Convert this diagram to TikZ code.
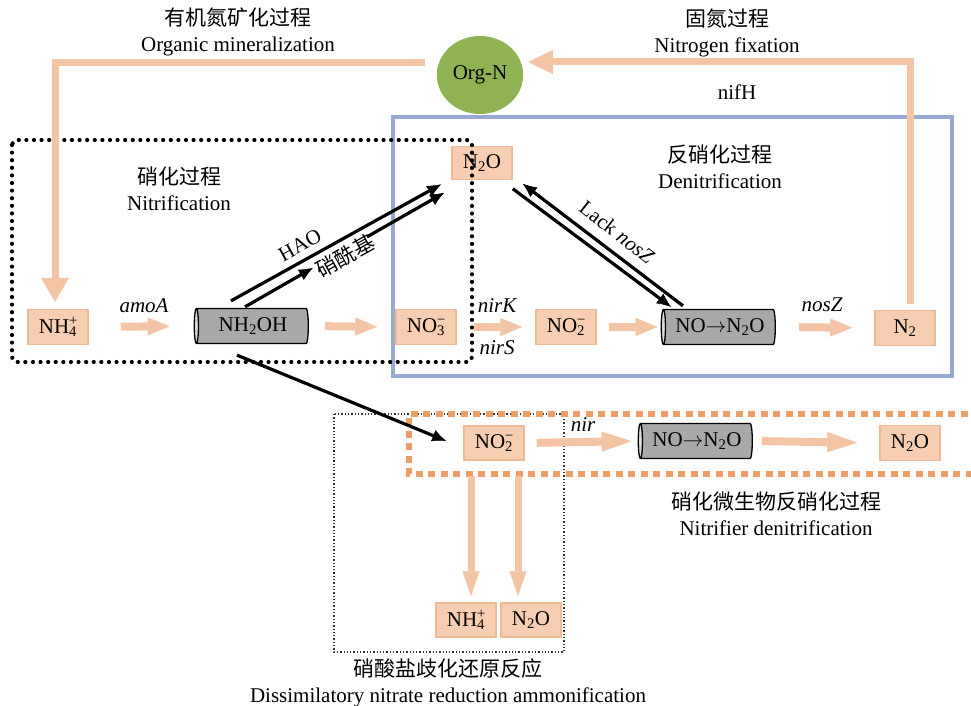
\documentclass[tikz,border=0pt]{standalone}
\usepackage{fontspec}
\setmainfont{Liberation Serif}
\newfontfamily\cjk{Noto Sans CJK SC}
\usetikzlibrary{arrows.meta,shapes.geometric}

\definecolor{boxfill}{RGB}{247,206,178}
\definecolor{boxline}{RGB}{238,186,150}
\definecolor{oarr}{RGB}{243,197,165}
\definecolor{orgn}{RGB}{143,178,82}
\definecolor{denblue}{RGB}{152,170,212}
\definecolor{ndash}{RGB}{237,157,102}
\definecolor{cylgray}{RGB}{168,168,168}

\newcommand{\chemsub}[1]{\textsubscript{#1}}
\newcommand{\chemion}[2]{\rlap{\textsuperscript{#2}}\textsubscript{#1}}

\tikzset{
  species/.style={draw=boxline, fill=boxfill, line width=1.5pt,
    minimum width=60pt, minimum height=35pt, inner sep=2pt,
    font=\fontsize{21}{22}\selectfont},
  enzyme/.style={cylinder, shape border rotate=180, aspect=0.22,
    draw=black, line width=1.3pt, cylinder uses custom fill,
    cylinder body fill=cylgray, cylinder end fill=cylgray!45,
    minimum height=114pt, minimum width=35pt, inner sep=1pt,
    font=\fontsize{21}{22}\selectfont},
  flow/.style={draw=oarr, line width=8pt,
    -{Triangle[length=22pt,width=18pt,line width=0.5pt]}},
  flowbig/.style={draw=oarr, line width=8pt,
    -{Triangle[length=30pt,width=20pt,line width=0.5pt]}},
  flowv/.style={draw=oarr, line width=7pt,
    -{Triangle[length=25pt,width=17pt,line width=0.5pt]}},
  oline/.style={draw=oarr, line width=7pt},
  karrow/.style={line width=3.2pt,
    -{Latex[length=14pt,width=12pt,line width=0.5pt]}},
  lbl/.style={font=\fontsize{21}{26}\selectfont, align=center, inner sep=1pt},
  gene/.style={font=\fontsize{21}{24}\selectfont\itshape, inner sep=1pt},
}

\begin{document}
\begin{tikzpicture}[x=1pt,y=-1pt]
  \useasboundingbox (0,0) rectangle (971,706);

  % denitrification frame
  \draw[denblue, line width=4.5pt] (393,117) rectangle (952,376);

  % species and enzymes
  \node[species] (nh4a) at (58,327) {NH\chemion{4}{+}};
  \node[enzyme] (nh2oh) at (253,326) {NH\chemsub{2}OH};
  \node[species] (no3) at (426,327) {NO\chemion{3}{−}};
  \node[species] (no2a) at (566,327) {NO\chemion{2}{−}};
  \node[enzyme] (noa) at (720,327) {NO$\rightarrow$N\chemsub{2}O};
  \node[species] (n2) at (905,328) {N\chemsub{2}};
  \node[species, minimum height=33pt] (n2oa) at (482,163) {N\chemsub{2}O};
  \node[ellipse, fill=orgn, minimum width=85pt, minimum height=78pt,
    font=\fontsize{21}{24}\selectfont] (orgN) at (480,75) {Org-N};
  \node[species, minimum height=34pt] (nob) at (494,443) {NO\chemion{2}{−}};
  \node[enzyme] (nocyl) at (697,441) {NO$\rightarrow$N\chemsub{2}O};
  \node[species] (n2oc) at (910,443) {N\chemsub{2}O};
  \node[species, minimum height=34pt] (nhb) at (466,620) {NH\chemion{4}{+}};
  \node[species, minimum height=34pt] (n2od) at (531,620) {N\chemsub{2}O};

  % process frames
  \draw[line width=4.2pt, line cap=round, dash pattern=on 0pt off 7.6pt,
    rounded corners=5pt] (12,140) rectangle (472,362);
  \draw[black!80, line width=1.3pt, dotted] (334,414) rectangle (564,652);
  \draw[ndash, line width=6pt, dash pattern=on 7pt off 5.5pt]
    (980,414) -- (409,414) -- (409,474) -- (980,474);

  % orange flows
  \draw[oline, -{Triangle[length=24pt,width=28pt,line width=0.5pt]}]
    ([shift={(-55,-12)}]orgN.center) -| ([shift={(-3,-7)}]nh4a.north);
  \draw[oline, -{Triangle[length=25pt,width=24pt,line width=0.5pt]}]
    ([shift={(5,-6)}]n2.north) |- ([shift={(48,-13)}]orgN.center);
  \draw[flow, shorten <=32pt, shorten >=24pt] (nh4a.east) -- (nh2oh.west);
  \draw[flow, shorten <=16pt, shorten >=18pt] (nh2oh.east) -- (no3.west);
  \draw[flow, shorten <=17pt, shorten >=13pt] (no3.east) -- (no2a.west);
  \draw[flow, shorten <=12pt, shorten >=3pt] (no2a.east) -- (noa.west);
  \draw[flow, shorten <=23pt, shorten >=22pt] (noa.east) -- (n2.west);
  \draw[flowbig, shorten <=12pt, shorten >=6pt] (nob.east) -- (nocyl.west);
  \draw[flowbig, shorten <=9pt, shorten >=22pt] (nocyl.east) -- (n2oc.west);
  \draw[flowv] ([shift={(-23,15)}]nob.south) -- ([shift={(5,-6)}]nhb.north);
  \draw[flowv] ([shift={(24,15)}]nob.south) -- ([shift={(-13,-6)}]n2od.north);

  % black pathways
  \draw[karrow] ([shift={(-22,-7)}]nh2oh.north) -- ([shift={(-10,4)}]n2oa.south west);
  \draw[karrow] ([shift={(-8,-1)}]nh2oh.north) -- ([shift={(60,-40)}]nh2oh.north);
  \draw[karrow] ([shift={(114,-71)}]nh2oh.north) -- ([shift={(-7,12.5)}]n2oa.south west);
  \draw[karrow] ([shift={(-37,-3)}]noa.north) -- ([shift={(10,3.5)}]n2oa.south east);
  \draw[karrow] ([shift={(0,8.5)}]n2oa.south east) -- ([shift={(-49,-2)}]noa.north);
  \draw[karrow] ([shift={(-16,11)}]nh2oh.south) -- ([shift={(-17,-2)}]nob.west);

  % gene and process labels
  \node[gene] (gamoa) at (144,306) {amoA};
  \node[gene] (gnirk) at (497,306) {nirK};
  \node[gene] (gnirs) at (497,348) {nirS};
  \node[gene] (gnosz) at (822,305) {nosZ};
  \node[gene] (gnir) at (583,425) {nir};
  \node[lbl] (gnifh) at (737,92) {nifH};
  \node[lbl, rotate=29] (ghao) at (300,245) {HAO};
  \node[lbl, rotate=29] (gxxj) at (345,256) {\cjk 硝酰基};
  \node[lbl, rotate=-38] (glack) at (617,232) {Lack \textit{nosZ}};

  \node[lbl] (tmin) at (238,32) {{\cjk 有机氮矿化过程}\\Organic mineralization};
  \node[lbl] (tfix) at (727,33) {{\cjk 固氮过程}\\Nitrogen fixation};
  \node[lbl] (tnit) at (179,189) {{\cjk 硝化过程}\\Nitrification};
  \node[lbl] (tden) at (720,167) {{\cjk 反硝化过程}\\Denitrification};
  \node[lbl] (tnd) at (776,514) {{\cjk 硝化微生物反硝化过程}\\Nitrifier denitrification};
  \node[lbl] (tdnra) at (448,683) {{\cjk 硝酸盐歧化还原反应}\\Dissimilatory nitrate reduction ammonification};
\end{tikzpicture}
\end{document}
